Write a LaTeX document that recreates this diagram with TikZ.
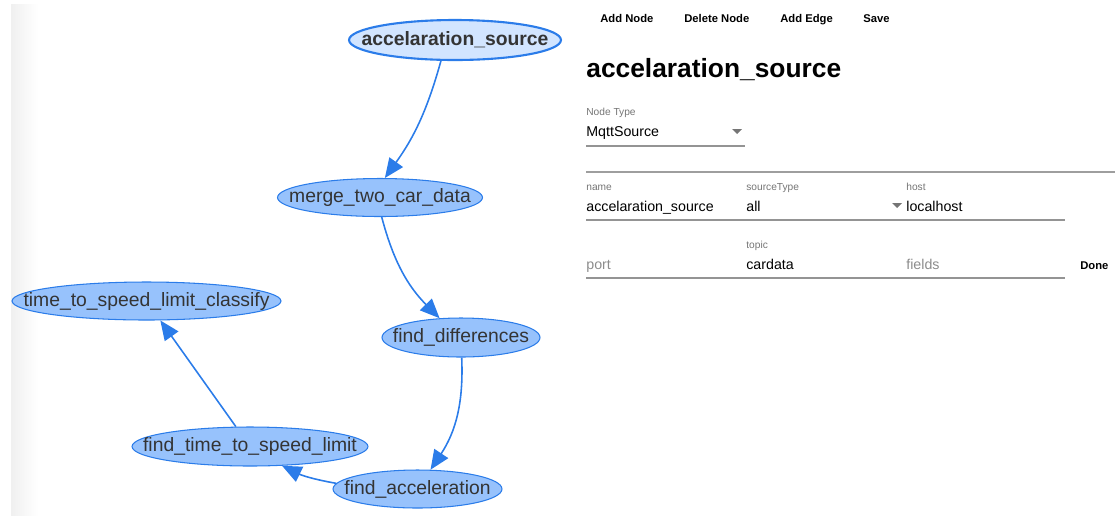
\documentclass[tikz,border=0pt]{standalone}
\usepackage{fontspec}
\setmainfont{Liberation Sans}
\usetikzlibrary{positioning, arrows.meta, shapes.geometric}

\definecolor{visfill}{HTML}{97C2FC}
\definecolor{visborder}{HTML}{2B7CE9}
\definecolor{visselect}{HTML}{D2E5FF}
\definecolor{vistext}{HTML}{343434}
\definecolor{formgray}{HTML}{757575}
\definecolor{formline}{HTML}{949494}

\begin{document}
\begin{tikzpicture}[x=0.02cm,y=-0.02cm,
  vnode/.style={ellipse, draw=visborder, fill=visfill, line width=0.6pt, inner sep=0pt},
  selnode/.style={fill=visselect, line width=1.2pt},
  vlabel/.style={text=vistext, font=\fontsize{11}{13}\selectfont},
  edge/.style={draw=visborder, line width=0.9pt, -{Triangle[length=3.9mm, width=3.3mm]}},
  btn/.style={anchor=base west, inner sep=0pt, font=\fontsize{6.4}{8}\selectfont\bfseries},
  flabel/.style={anchor=base west, inner sep=0pt, text=formgray, font=\fontsize{5.8}{7}\selectfont},
  fvalue/.style={anchor=base west, inner sep=0pt, font=\fontsize{8.1}{10}\selectfont},
  fhint/.style={fvalue, text=black!45},
  uline/.style={draw=formline, line width=0.6pt}]

  \useasboundingbox (0,0) rectangle (1115,515);
  \fill[left color=black!6, right color=white] (11,4) rectangle (38,515);

  % Define graph nodes
  \node[vnode,selnode,minimum width=4.24cm,minimum height=0.8cm,label={[vlabel,font=\fontsize{11}{13}\selectfont\bfseries]center:accelaration\_source}] (src) at (455,40) {};
  \node[vnode,minimum width=4.1cm,minimum height=0.76cm,label={[vlabel]center:merge\_two\_car\_data}] (merge) at (380,197.5) {};
  \node[vnode,minimum width=3.16cm,minimum height=0.78cm,label={[vlabel]center:find\_differences}] (diff) at (461,337.5) {};
  \node[vnode,minimum width=5.38cm,minimum height=0.76cm,label={[vlabel]center:time\_to\_speed\_limit\_classify}] (classify) at (146.5,301) {};
  \node[vnode,minimum width=4.72cm,minimum height=0.78cm,label={[vlabel]center:find\_time\_to\_speed\_limit}] (findtime) at (250,446.5) {};
  \node[vnode,minimum width=3.38cm,minimum height=0.76cm,label={[vlabel]center:find\_acceleration}] (accel) at (417.5,489) {};

  % Edges
  \draw[edge] (src.236) to[bend left=10] (merge.76);
  \draw[edge] (merge.275) to[bend right=15] (diff.138);
  \draw[edge] (diff) to[bend left=18] (accel);
  \draw[edge] (accel.176) to[bend left=8] (findtime.-31);
  \draw[edge] (findtime) -- (classify);

  % Toolbar
  \node[btn] (addnode) at (600,22) {Add Node};
  \node[btn] (delnode) at (684,22) {Delete Node};
  \node[btn] (addedge) at (780,22) {Add Edge};
  \node[btn] (save) at (863,22) {Save};

  % Title
  \node[anchor=base west,inner sep=0pt,font=\fontsize{15}{18}\selectfont\bfseries] (title) at (586,77) {accelaration\_source};

  % Node type
  \node[flabel] (typelbl) at (586,115) {Node Type};
  \node[fvalue] (typeval) at (586,136) {MqttSource};
  \draw[uline] (586,146) -- (745,146);
  \fill[formgray] (732,129) -- (742,129) -- (737,134) -- cycle;
  \draw[draw=black!38,line width=0.6pt] (586,172) -- (1115,172);

  % First row of fields
  \node[flabel] (namelbl) at (586,190) {name};
  \node[flabel] (sourcelbl) at (746,190) {sourceType};
  \node[flabel] (hostlbl) at (906,190) {host};
  \node[fvalue] (nameval) at (586,211) {accelaration\_source};
  \node[fvalue] (sourceval) at (746,211) {all};
  \fill[formgray] (892,203) -- (902,203) -- (897,208) -- cycle;
  \node[fvalue] (hostval) at (906,211) {localhost};
  \draw[uline] (586,220) -- (1065,220);

  % Second row of fields
  \node[flabel] (topiclbl) at (746,248) {topic};
  \node[fhint] (portval) at (586,269) {port};
  \node[fvalue] (topicval) at (746,269) {cardata};
  \node[fhint] (fieldsval) at (906,269) {fields};
  \node[btn] (done) at (1080,269) {Done};
  \draw[uline] (586,278) -- (1065,278);
\end{tikzpicture}
\end{document}
